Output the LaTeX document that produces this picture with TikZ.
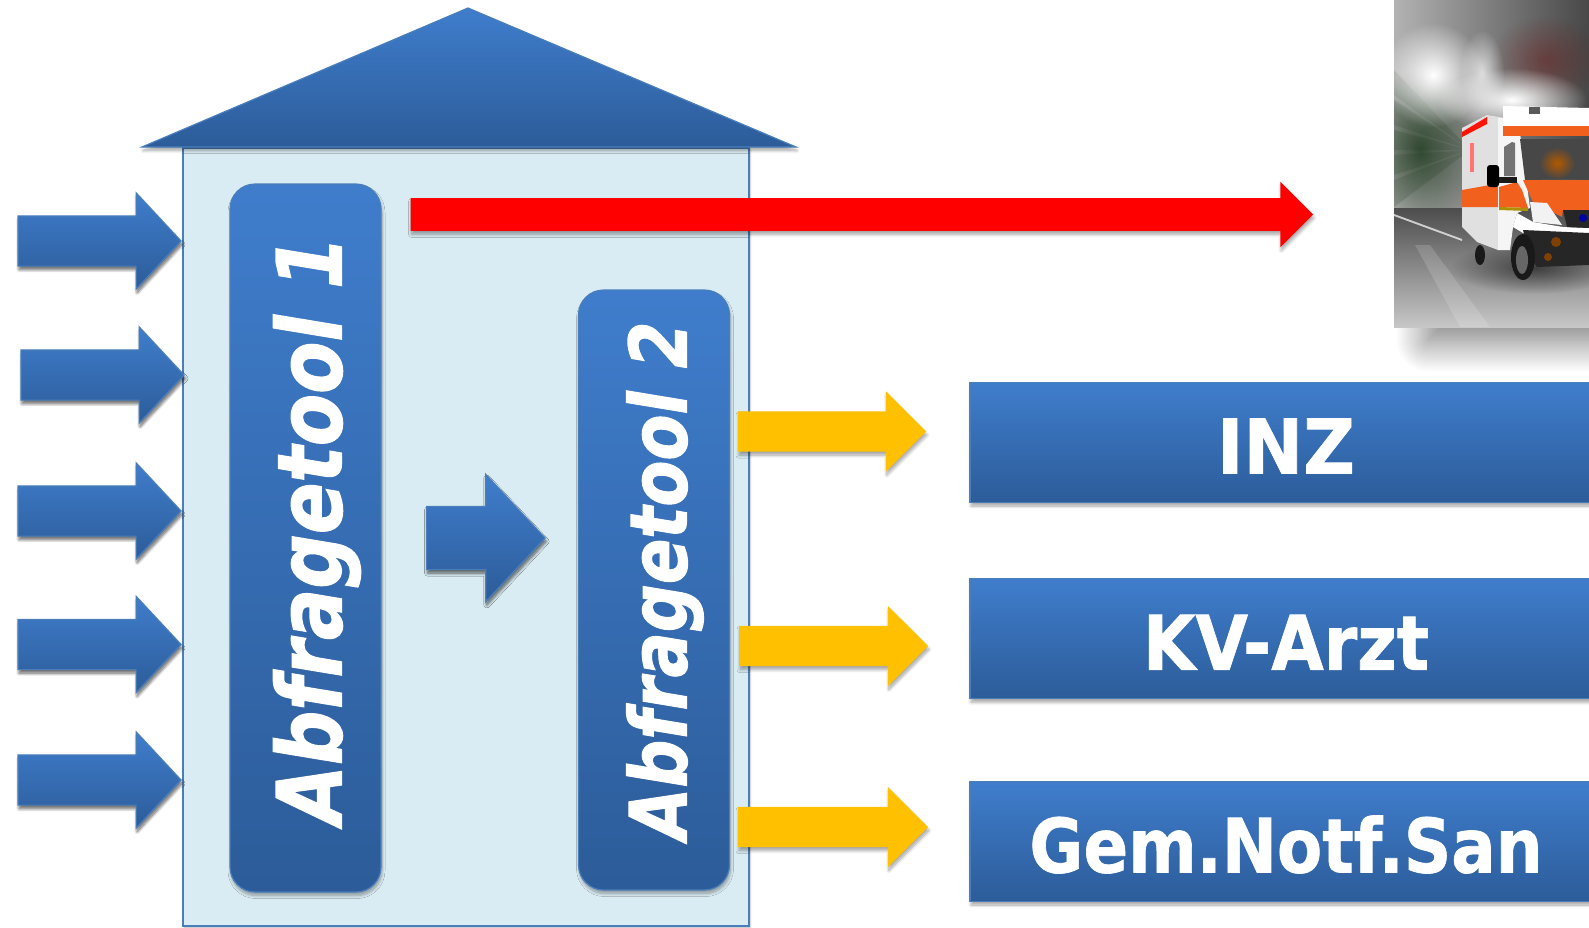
\documentclass[tikz,border=0pt]{standalone}
\usepackage{xcolor}
\usepackage{fontspec}
\setmainfont{DejaVu Sans}[BoldFeatures={FakeBold=1}, BoldItalicFeatures={FakeBold=1.5}]
\usepackage{tikz}
\usetikzlibrary{positioning, shapes.arrows, shadows.blur, fadings}

\definecolor{barlight}{HTML}{3F7DCC}
\definecolor{bardark}{HTML}{2C5C99}
\definecolor{barline}{HTML}{4A7EBB}
\definecolor{silofill}{HTML}{DAECF3}
\definecolor{arrowyellow}{HTML}{FFC000}
\definecolor{vanorange}{HTML}{F2601E}

\tikzfading[name=glow, inner color=transparent!0, outer color=transparent!100]

\newcommand{\fittext}[3]{\resizebox{#1}{#2}{\bfseries #3}}

\begin{document}
\begin{tikzpicture}[x=1pt, y=1pt]

	\tikzstyle{softshadow}=[blur shadow={shadow xshift=1pt, shadow yshift=-3.5pt, shadow blur radius=3pt, shadow opacity=35, shadow blur steps=8}]
	\tikzstyle{barshade}=[top color=barlight, bottom color=bardark, draw=barline, line width=1.2pt, softshadow]
	\tikzstyle{toolbox}=[barshade, rectangle, rounded corners=25pt, minimum width=151pt, inner sep=0pt]
	\tikzstyle{targetbox}=[barshade, rectangle, minimum width=632pt, minimum height=120pt, inner sep=0pt, text=white, text height=62pt, text depth=0pt]
	\tikzstyle{blockarrow}=[single arrow, inner xsep=0pt, outer sep=0pt, anchor=tail, softshadow]
	\tikzstyle{inarrow}=[blockarrow, barshade, minimum height=163pt, minimum width=95pt, inner ysep=24.5pt, single arrow head extend=23pt, single arrow tip angle=94]
	\tikzstyle{outarrow}=[blockarrow, fill=arrowyellow, minimum width=80pt, inner ysep=20pt, single arrow head extend=20pt]
	\tikzstyle{toollabel}=[inner sep=0pt, text=white]

	\useasboundingbox (0,0) rectangle (1589,-927);
	\clip (0,0) rectangle (1589,-927);

	% ambulance picture
	\path [blur shadow={shadow xshift=0pt, shadow yshift=0pt, shadow blur radius=32pt, shadow opacity=55, shadow blur steps=30}] (1428,-20) rectangle (1640,-340);
	\begin{scope}
		\clip (1394,0) rectangle (1589,-327);
		\shade [left color=black!30, right color=black!72] (1394,0) rectangle (1589,-210);
		\fill [red!45!black, opacity=0.35, path fading=glow] (1545,-60) ellipse (55 and 45);
		\foreach \a/\b in {70/95, 100/125, 130/150, 155/175, 180/207}
			\fill [green!12!black, opacity=0.14] (1470,-150) -- (1394,-\a) -- (1394,-\b) -- cycle;
		\fill [green!12!black!90, opacity=0.8, path fading=glow] (1420,-150) ellipse (60 and 80);
		\fill [white, path fading=glow] (1433,-75) circle (52);
		\fill [white, opacity=0.7, path fading=glow] (1482,-72) ellipse (22 and 42);
		\fill [white, path fading=glow] (1512,-100) ellipse (75 and 32);
		\shade [top color=black!70, bottom color=black!22] (1394,-208) rectangle (1589,-327);
		\fill [white, opacity=0.7] (1394,-214) -- (1462,-239) -- (1462,-241) -- (1394,-216) -- cycle;
		\fill [black!85, opacity=0.75, path fading=glow] (1535,-268) ellipse (85 and 26);
		\fill [white, opacity=0.15] (1415,-245) -- (1430,-245) -- (1490,-327) -- (1460,-327) -- cycle;
		% van body
		\fill [black!12] (1462,-128) -- (1487,-115) -- (1505,-118) -- (1498,-250) -- (1477,-242) -- (1462,-227) -- cycle;
		\fill [red!85!orange] (1462,-132) -- (1487,-117) -- (1487,-124) -- (1462,-137) -- cycle;
		\fill [red!55] (1470,-143) rectangle (1474,-172);
		\fill [vanorange] (1462,-190) -- (1490,-185) -- (1498,-185) -- (1498,-207) -- (1462,-207) -- cycle;
		\fill [black!4] (1498,-118) -- (1518,-118) -- (1530,-208) -- (1517,-213) -- (1513,-227) -- (1510,-250) -- (1498,-250) -- cycle;
		\fill [black!55] (1504,-147) -- (1512,-142) -- (1515,-143) -- (1515,-176) -- (1504,-176) -- cycle;
		\fill [vanorange] (1499,-187) -- (1517,-182) -- (1522,-190) -- (1528,-208) -- (1499,-207) -- cycle;
		\fill [olive!70!orange] (1499,-207) -- (1528,-208) -- (1528,-211) -- (1499,-210) -- cycle;
		\fill [white] (1503,-106) -- (1589,-108) -- (1589,-127) -- (1503,-127) -- cycle;
		\fill [vanorange] (1503,-126) rectangle (1589,-136);
		\fill [black!72] (1520,-139) -- (1589,-139) -- (1589,-179) -- (1525,-180) -- cycle;
		\fill [orange!70!black, path fading=glow] (1557,-163) ellipse (18 and 16);
		\fill [vanorange] (1523,-180) -- (1589,-180) -- (1589,-210) -- (1563,-210) -- (1562,-217) -- (1533,-202) -- cycle;
		\fill [white] (1517,-213) -- (1533,-222) -- (1563,-227) -- (1589,-228) -- (1589,-233) -- (1523,-233) -- (1513,-227) -- cycle;
		\fill [black!5] (1530,-202) -- (1547,-203) -- (1562,-225) -- (1533,-222) -- cycle;
		\fill [black!85] (1563,-210) -- (1589,-210) -- (1589,-228) -- (1567,-227) -- cycle;
		\fill [blue!65!black] (1583,-218) circle (4);
		\fill [black!85] (1523,-230) -- (1589,-233) -- (1589,-265) -- (1537,-267) -- (1530,-257) -- cycle;
		\fill [orange!50!black] (1556,-242) circle (5);
		\fill [orange!50!black] (1548,-257) circle (4);
		\fill [black!90] (1523,-257) ellipse (12 and 23);
		\fill [black!60] (1522,-260) ellipse (6 and 14);
		\fill [black!90] (1480,-255) ellipse (5 and 10);
		\fill [black, rounded corners=3pt] (1487,-165) rectangle (1499,-187);
		\fill [black!90] (1499,-177) rectangle (1517,-183);
		\fill [black!65] (1529,-107) rectangle (1540,-114);
	\end{scope}

	% silo with its roof
	\node (silo) at (466,-537) [rectangle, fill=silofill, draw=barline, line width=1.2pt, minimum width=566pt, minimum height=778pt, inner sep=0pt, blur shadow={shadow xshift=1pt, shadow yshift=-1pt, shadow blur radius=2pt, shadow opacity=30}] {};
	\coordinate (rooftop) at (468,-8);
	\coordinate (roofl) at (142,-147);
	\coordinate (roofr) at (796,-147);
	\draw [barshade] (rooftop) -- (roofr) -- (roofl) -- cycle;

	% tools
	\node (tool1) at (305.5,-538) [toolbox, minimum height=708pt] {};
	\node (tool2) at (654,-590) [toolbox, minimum height=600pt] {};
	\node (lab1) at (317,-530) [toollabel] {\rotatebox{90}{\fittext{588pt}{68pt}{\itshape Abfragetool 1}}};
	\node (lab2) at (665,-580.5) [toollabel] {\rotatebox{90}{\fittext{518pt}{60pt}{\itshape Abfragetool 2}}};

	% arrows into tool 1
	\foreach \n/\x/\y in {1/18/241, 2/21/375, 3/18/511, 4/18/644.5, 5/18/780}
		\node (in\n) at (\x,-\y) [inarrow] {};

	\node (step) at (426.6,-538) [blockarrow, barshade, minimum height=118.5pt, minimum width=126pt, inner ysep=31pt, single arrow head extend=32pt, single arrow tip angle=94] {};
	\node (alarm) at (410.5,-214.5) [blockarrow, fill=red, minimum height=902.5pt, minimum width=65pt, inner ysep=16.2pt, single arrow head extend=16.3pt] {};

	\node (out1) at (738,-431.5) [outarrow, minimum height=188pt] {};
	\node (out2) at (739,-646) [outarrow, minimum height=189pt] {};
	\node (out3) at (738,-827) [outarrow, minimum height=190pt] {};

	% targets
	\node (inz) at (1286,-442.5) [targetbox] {\fittext{138pt}{55pt}{INZ}};
	\node (kv) at (1286,-638.8) [targetbox] {\fittext{286pt}{55pt}{KV-Arzt}};
	\node (gem) at (1286,-841.5) [targetbox] {\fittext{513pt}{57pt}{Gem.Notf.San}};

\end{tikzpicture}
\end{document}
